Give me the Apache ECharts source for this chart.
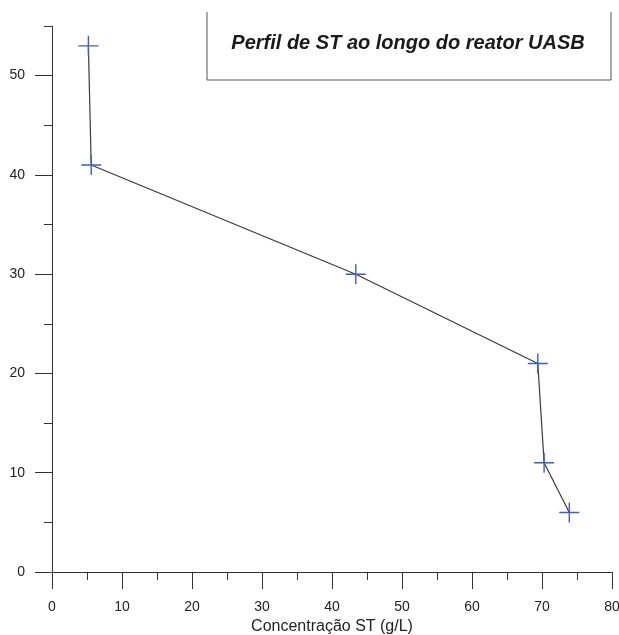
<!DOCTYPE html>
<html>
<head>
<meta charset="utf-8">
<script src="https://cdn.jsdelivr.net/npm/echarts@6/dist/echarts.min.js"></script>
<style>html,body{margin:0;padding:0;background:#fff}#c{width:619px;height:635px}</style>
</head>
<body>
<div id="c"></div>
<script>
// Data
const concST = [5.2, 5.6, 43.4, 69.4, 70.3, 73.9];
const altura = [53, 41, 30, 21, 11, 6];
const xTicks = [0, 10, 20, 30, 40, 50, 60, 70, 80];
const yTicks = [0, 10, 20, 30, 40, 50];
const yMinorTicks = [5, 15, 25, 35, 45, 55];
const titleText = 'Perfil de ST ao longo do reator UASB';
const xName = 'Concentração ST (g/L)';

const chart = echarts.init(document.getElementById('c'), null, {renderer: 'canvas'});
const font = 'Liberation Sans, Arial, sans-serif';
const axisColor = '#333';
const crossPath = 'path://M0,9.3H20V10.7H0Z M9.3,0H10.7V20H9.3Z';

chart.setOption({
  animation: false,
  backgroundColor: '#fff',
  grid: {left: 52, right: 7, top: 26, bottom: 63, containLabel: false, outerBoundsMode: 'none'},
  xAxis: {
    type: 'value', min: 0, max: 80, interval: 10,
    name: xName, nameLocation: 'middle', nameGap: 45,
    nameTextStyle: {fontFamily: font, fontSize: 16, color: '#222'},
    axisLine: {onZero: false, lineStyle: {color: axisColor, width: 1}},
    axisTick: {show: true, length: 17, inside: false, customValues: xTicks, lineStyle: {color: axisColor}},
    minorTick: {show: true, splitNumber: 2, length: 8, lineStyle: {color: axisColor}},
    axisLabel: {fontFamily: font, fontSize: 14, color: '#222', margin: 28, customValues: xTicks},
    splitLine: {show: false}
  },
  yAxis: [{
    type: 'value', min: 0, max: 55,
    axisLine: {show: true, onZero: false, lineStyle: {color: axisColor, width: 1}},
    axisTick: {show: true, length: 17, customValues: yTicks, lineStyle: {color: axisColor}},
    axisLabel: {fontFamily: font, fontSize: 14, color: '#222', margin: 27, customValues: yTicks},
    splitLine: {show: false}
  }, {
    type: 'value', min: 0, max: 55, position: 'left',
    axisLine: {show: false},
    axisTick: {show: true, length: 8, customValues: yMinorTicks, lineStyle: {color: axisColor}},
    axisLabel: {show: false},
    splitLine: {show: false}
  }],
  series: [{
    type: 'line',
    data: concST.map((x, i) => [x, altura[i]]),
    symbol: crossPath,
    symbolSize: 20,
    lineStyle: {color: '#3a3a3a', width: 1.2},
    itemStyle: {color: '#3f5fb8'},
    z: 3
  }],
  graphic: [
    {type: 'polyline', shape: {points: [[207, 12], [207, 80], [611, 80], [611, 12]]},
     style: {stroke: '#555', lineWidth: 1, fill: null}},
    {type: 'text', x: 408, y: 43,
     style: {text: titleText, font: 'italic bold 20px Liberation Sans, Arial, sans-serif',
             fill: '#1a1a1a', align: 'center', verticalAlign: 'middle'}}
  ]
});
</script>
</body>
</html>
